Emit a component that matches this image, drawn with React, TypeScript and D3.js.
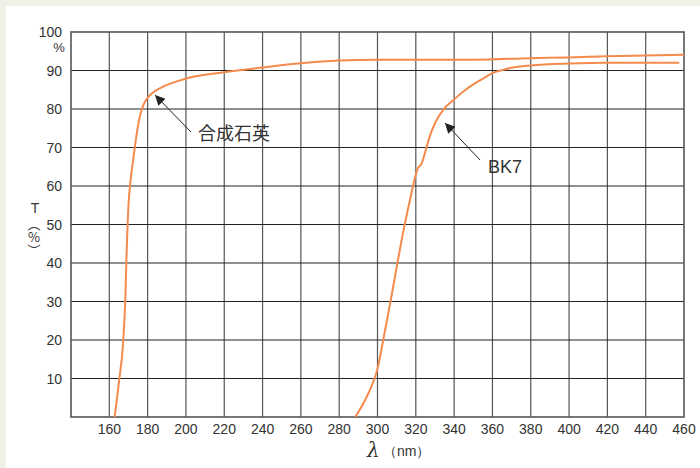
import React from "react";
import * as d3 from "d3";

const xTicks = [160, 180, 200, 220, 240, 260, 280, 300, 320, 340, 360, 380, 400, 420, 440, 460];
const yTicks = [10, 20, 30, 40, 50, 60, 70, 80, 90, 100];

const quartzX = [162.8, 165, 167.3, 168.3, 169, 170, 171, 172.5, 174, 175.5, 177, 179, 181, 184, 188, 193, 198, 205, 219, 240, 260, 280, 300, 350, 380, 400, 420, 440, 460];
const quartzY = [0, 9, 20, 30, 42, 55, 61, 67, 72.5, 77, 80, 82.2, 83.5, 84.7, 85.8, 86.8, 87.6, 88.5, 89.5, 90.8, 91.9, 92.6, 92.8, 92.8, 93.2, 93.4, 93.7, 93.9, 94.1];

const bk7X = [288.3, 292, 296, 300, 303, 306.6, 310.4, 314, 317, 319.5, 321, 323, 325, 327, 330, 335, 340, 345, 350, 355, 360, 365, 370, 380, 400, 420, 440, 457.5];
const bk7Y = [0, 3, 7, 12.5, 20, 29.5, 40, 49.5, 56.5, 62, 64.5, 65.8, 69, 72.5, 76.3, 80.2, 82.5, 84.6, 86.4, 87.9, 89.3, 90.1, 90.7, 91.3, 91.8, 92, 92, 92];

const W = 700, H = 468;
const L = 71, R = 684, T = 32, B = 417;

export default function App() {
  const x = d3.scaleLinear().domain([140, 460]).range([L, R]);
  const y = d3.scaleLinear().domain([0, 100]).range([B, T]);
  const line = d3.line<[number, number]>().x(d => x(d[0])).y(d => y(d[1])).curve(d3.curveMonotoneX);
  const q = quartzX.map((v, i) => [v, quartzY[i]] as [number, number]);
  const b = bk7X.map((v, i) => [v, bk7Y[i]] as [number, number]);
  const font = "'Liberation Sans', Arial, Helvetica, sans-serif";
  const cjk = "'Noto Sans CJK JP', sans-serif";
  const orange = "#f48a4c";
  return (
    <svg width={W} height={H} style={{ position: "absolute", left: 0, top: 0 }} fontFamily={font}>
      <defs>
        <marker id="ah" viewBox="0 0 10 10" refX="10" refY="5" markerWidth="12" markerHeight="10" markerUnits="userSpaceOnUse" orient="auto">
          <path d="M0,0 L10,5 L0,10 z" fill="#222" />
        </marker>
      </defs>
      <rect x={0} y={0} width={W} height={H} fill="#f1f0e7" />
      <rect x={6} y={6} width={W - 6} height={H - 6} fill="#ffffff" />
      {xTicks.slice(0, -1).map(t => (
        <line key={"vx" + t} x1={x(t)} x2={x(t)} y1={T} y2={B} stroke="#555" strokeWidth={1.2} />
      ))}
      {yTicks.slice(0, -1).map(t => (
        <line key={"hy" + t} x1={L} x2={R} y1={y(t)} y2={y(t)} stroke="#222" strokeWidth={1.1} />
      ))}
      <rect x={L} y={T} width={R - L} height={B - T} fill="none" stroke="#555" strokeWidth={1.6} />
      {xTicks.map(t => (
        <text key={"xt" + t} x={x(t)} y={434} fontSize={14} fill="#333" textAnchor="middle">{t}</text>
      ))}
      {yTicks.map(t => (
        <text key={"yt" + t} x={62} y={y(t) + 5} fontSize={14} fill="#333" textAnchor="end">{t}</text>
      ))}
      <text x={59} y={52} fontSize={13} fill="#333" textAnchor="middle">%</text>
      <text x={35} y={213} fontSize={14} fill="#333" textAnchor="middle">T</text>
      <text x={34} y={218} fontSize={13} fill="#333" fontFamily={cjk}
        style={{ writingMode: "vertical-rl", textOrientation: "upright" } as any}>（%）</text>
      <text x={367} y={457} fontSize={20} fill="#333" fontStyle="italic" fontFamily="'DejaVu Serif', serif">λ</text>
      <text x={383} y={456} fontSize={14} fill="#333">（nm）</text>
      <path d={line(q) || ""} fill="none" stroke={orange} strokeWidth={2} />
      <path d={line(b) || ""} fill="none" stroke={orange} strokeWidth={2} />
      <line x1={191} y1={132} x2={155} y2={95} stroke="#222" strokeWidth={1} markerEnd="url(#ah)" />
      <line x1={480} y1={160} x2={445} y2={123} stroke="#222" strokeWidth={1} markerEnd="url(#ah)" />
      <text x={198} y={140} fontSize={18} fill="#333" fontFamily={cjk}>合成石英</text>
      <text x={488} y={173} fontSize={18} fill="#333">BK7</text>
    </svg>
  );
}
